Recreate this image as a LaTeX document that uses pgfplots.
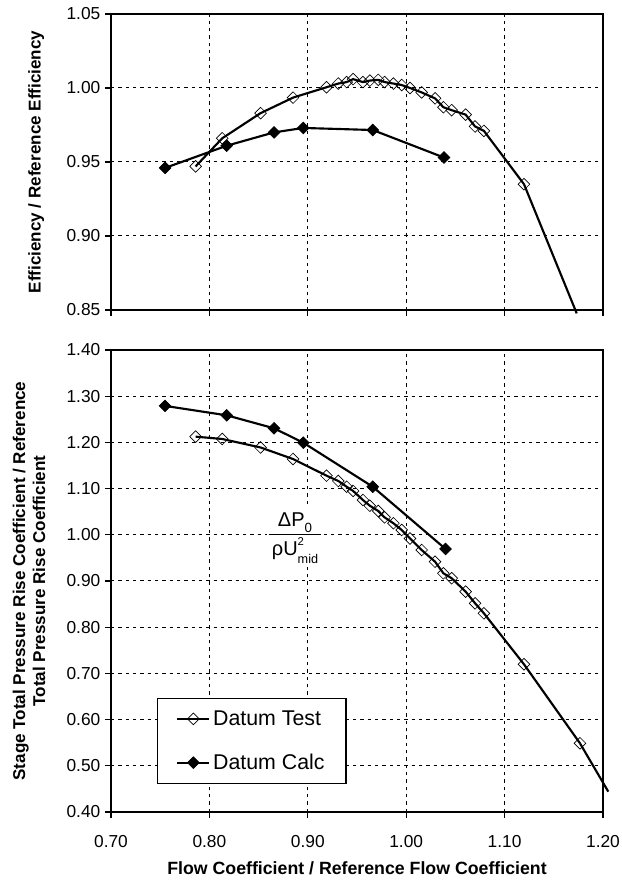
\documentclass[border=0pt]{standalone}
\usepackage{fontspec}
\setmainfont{Liberation Sans}
\usepackage{pgfplots}
\pgfplotsset{compat=1.18}
\newcommand{\labfont}{\bfseries\fontsize{12.8}{15}\selectfont}
\newcommand{\xlabfont}{\bfseries\fontsize{13.3}{15}\selectfont}
\pgfplotsset{
  common/.style={
    scale only axis, width=369pt,
    xmin=0.7, xmax=1.2, xtick={0.7,0.8,0.9,1.0,1.1,1.2},
    grid=major,
    axis line style={line width=1.1pt, black},
    major grid style={black, line width=0.75pt, dash pattern=on 2.5pt off 3pt},
    tick align=outside, major tick length=4.5pt,
    tick style={black, line width=0.8pt},
    xtick pos=lower, ytick pos=left,
    ticklabel style={font=\fontsize{13}{15}\selectfont},
    xticklabel style={yshift=-9.5pt},
    /pgf/number format/assume math mode=true,
    /pgf/number format/fixed, /pgf/number format/fixed zerofill, /pgf/number format/precision=2,
    clip=false,
    legend image code/.code={\draw[mark repeat=2,mark phase=2,#1] plot coordinates {(0pt,0pt)(12pt,0pt)(24pt,0pt)};},
  },
  test/.style={black, line width=1.6pt, mark=square, mark size=3.1pt, mark options={rotate=45, solid, line width=0.5pt}},
  calc/.style={black, line width=1.6pt, mark=square*, mark size=3.1pt, mark options={rotate=45, solid, fill=black, line width=0.5pt}},
}
\begin{document}
\begin{tikzpicture}[x=1pt,y=1pt]
\path[use as bounding box] (-83.25,-51) rectangle (382.5,609);
% ---------- top: efficiency ----------
\begin{axis}[common, at={(0pt,376.5pt)}, anchor=south west, height=222pt,
  ymin=0.85, ymax=1.05, ytick={0.85,0.90,0.95,1.00,1.05},
  xticklabels={},
  ylabel={Efficiency / Reference Efficiency},
  every axis y label/.style={at={(axis description cs:-0.152,0.5)}, rotate=90, anchor=center, font=\labfont},
]
\addplot[test] coordinates {
 (0.786,0.947) (0.813,0.966) (0.852,0.983) (0.885,0.9935) (0.919,1.0005)
 (0.931,1.003) (0.9395,1.004) (0.946,1.006) (0.956,1.004) (0.963,1.005)
 (0.9716,1.0055) (0.978,1.004) (0.987,1.003) (0.9954,1.002) (1.0039,1.000)
 (1.0157,0.997) (1.0293,0.993) (1.0378,0.987) (1.0462,0.985) (1.0604,0.982)
 (1.070,0.974) (1.079,0.971) (1.1197,0.935)
};
\addplot[black, line width=1.6pt, no marks, forget plot] coordinates {(1.1197,0.935) (1.1733,0.8477)};
\addplot[calc] coordinates {
 (0.755,0.946) (0.8176,0.961) (0.8657,0.970) (0.8954,0.973) (0.966,0.9716) (1.0384,0.953)
};
\end{axis}
% ---------- bottom: pressure rise ----------
\begin{axis}[common, at={(0pt,0pt)}, anchor=south west, height=346.5pt,
  ymin=0.4, ymax=1.4, ytick={0.4,0.5,...,1.4},
  xlabel={Flow Coefficient / Reference Flow Coefficient},
  every axis x label/.style={at={(axis description cs:0.5,0)}, anchor=center, yshift=-42pt, font=\xlabfont},
  ylabel={Stage Total Pressure Rise Coefficient / Reference\\Total Pressure Rise Coefficient},
  every axis y label/.style={at={(axis description cs:-0.1667,0.5)}, rotate=90, anchor=center, align=center, font=\labfont},
  legend style={at={(axis description cs:0.0935,0.247)}, anchor=north west,
    draw=black, line width=1pt, font=\fontsize{16}{19}\selectfont,
    row sep=16pt, inner xsep=14pt, inner ysep=7pt, cells={anchor=west}},
]
\addplot[test] coordinates {
 (0.786,1.2124) (0.813,1.2074) (0.852,1.189) (0.885,1.164) (0.919,1.128)
 (0.931,1.1165) (0.9395,1.104) (0.946,1.095) (0.956,1.0753) (0.963,1.063)
 (0.9716,1.0515) (0.978,1.0378) (0.987,1.025) (0.9954,1.0104) (1.0039,0.992)
 (1.0157,0.9671) (1.0293,0.9418) (1.0378,0.9167) (1.0462,0.906) (1.0604,0.877)
 (1.070,0.8517) (1.079,0.830) (1.1197,0.7197) (1.1766,0.5487)
};
\addlegendentry{Datum Test}
\addplot[calc] coordinates {
 (0.7549,1.279) (0.8176,1.2586) (0.8657,1.2305) (0.8954,1.1994) (0.966,1.104) (1.040,0.9693)
};
\addlegendentry{Datum Calc}
\addplot[black, line width=1.6pt, no marks, forget plot] coordinates {(1.1766,0.5487) (1.2054,0.444)};
\node[fill=white, inner sep=1.5pt] at (axis cs:0.887,0.995) {\fontsize{15}{17}\selectfont
  \begin{tabular}{@{\,}c@{\,}}
  ΔP\raisebox{-0.3em}{\fontsize{10}{11}\selectfont 0}\\[1pt]\hline\rule{0pt}{1.05em}%
  ρU\rlap{\raisebox{0.5em}{\fontsize{8.5}{9}\selectfont 2}}\raisebox{-0.4em}{\fontsize{9.5}{10}\selectfont mid}
  \end{tabular}};
\end{axis}
\end{tikzpicture}
\end{document}
